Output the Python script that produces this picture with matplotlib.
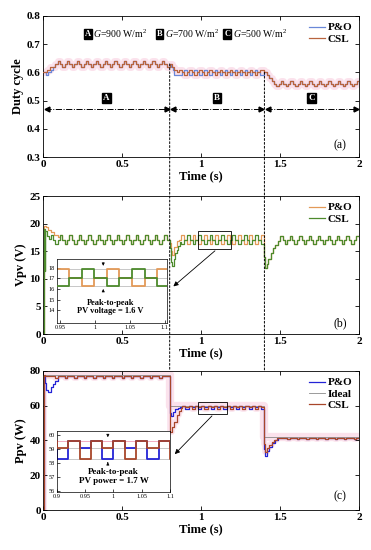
import numpy as np
import matplotlib
matplotlib.use('Agg')
import matplotlib.pyplot as plt
from matplotlib.patches import Rectangle, ConnectionPatch

plt.rcParams['font.family'] = ['Liberation Serif', 'DejaVu Serif']
plt.rcParams['mathtext.fontset'] = 'custom'
plt.rcParams['mathtext.rm'] = 'Liberation Serif'
plt.rcParams['mathtext.it'] = 'Liberation Serif:italic'

# ---- (a) duty cycle: start-up / transient points and repeating steady-state steps
D_CYC_A = [0.62, 0.63, 0.64, 0.63]
D_CYC_B_CSL = [0.61, 0.60, 0.59, 0.60]
D_CYC_B_PO = [0.59, 0.60, 0.61, 0.60]
D_CYC_C = [0.55, 0.56, 0.57, 0.56]
D_CSL_T0, D_CSL_V0 = [0.0, 0.02, 0.04], [0.60, 0.61, 0.62]
D_PO_T0, D_PO_V0 = [0.0, 0.015, 0.03, 0.045], [0.60, 0.59, 0.60, 0.61]
D_CSL_T1, D_CSL_V1 = [0.80, 0.815, 0.83, 0.845], [0.63, 0.62, 0.61, 0.60]
D_PO_T1, D_PO_V1 = [0.80, 0.81, 0.82, 0.83], [0.63, 0.62, 0.61, 0.59]
D_T2, D_V2 = [1.40, 1.415, 1.43, 1.445, 1.46], [0.60, 0.59, 0.58, 0.57, 0.56]

# ---- (b) PV voltage
V_CYC_A = [17.85, 17.1, 16.35, 17.1]
V_CYC_B_CSL = [16.3, 17.05, 17.85, 17.05]
V_CYC_B_PO = [17.85, 17.05, 16.3, 17.05]
V_CYC_C = [17.7, 17.0, 16.35, 17.0]
V_CSL_T0, V_CSL_V0 = [0.0, 0.003, 0.007, 0.012, 0.022, 0.035], [0.0, 19.0, 11.5, 18.6, 17.8, 17.3]
V_PO_T0, V_PO_V0 = [0.0, 0.003, 0.015, 0.03, 0.05, 0.07, 0.09], [0.0, 19.6, 19.3, 18.9, 18.4, 17.9, 17.5]
V_CSL_T1 = [0.80, 0.806, 0.815, 0.825, 0.835, 0.845, 0.855, 0.865]
V_CSL_V1 = [15.5, 13.0, 12.4, 13.6, 14.6, 15.3, 16.0, 16.6]
V_PO_T1, V_PO_V1 = [0.80, 0.806, 0.815, 0.83, 0.845, 0.86], [16.5, 15.0, 14.4, 15.8, 16.8, 17.1]
V_T2 = [1.40, 1.405, 1.415, 1.425, 1.44, 1.455, 1.47, 1.485]
V_V2 = [14.0, 12.0, 12.6, 13.6, 14.6, 15.5, 16.2, 16.8]

# ---- (c) PV power
P_CYC_A = [76.9, 76.9, 76.9, 75.7]
P_CYC_B_PO = [59.6, 59.6, 58.3, 58.3, 59.6, 59.6, 59.1, 59.1]
P_CYC_B_CSL = [59.6, 59.6, 59.1, 59.1, 59.6, 59.6, 58.3, 58.3]
P_CYC_C = [41.6, 41.6, 41.6, 40.8]
P_CSL_T0, P_CSL_V0 = [0.0, 0.002, 0.006, 0.012], [0.0, 52.0, 77.5, 76.9]
P_PO_T0 = [0.0, 0.003, 0.008, 0.018, 0.03, 0.045, 0.06, 0.075]
P_PO_V0 = [0.0, 77.0, 73.0, 69.0, 68.0, 70.5, 72.5, 74.5]
P_CSL_T1 = [0.80, 0.805, 0.815, 0.83, 0.845, 0.86, 0.87]
P_CSL_V1 = [48.0, 45.0, 47.5, 50.5, 54.5, 57.0, 58.5]
P_PO_T1, P_PO_V1 = [0.80, 0.806, 0.82, 0.835, 0.85, 0.865], [56.0, 54.0, 56.5, 58.0, 58.8, 59.3]
P_CSL_T2 = [1.40, 1.405, 1.415, 1.43, 1.445, 1.46, 1.48]
P_CSL_V2 = [38.0, 33.5, 35.5, 37.5, 39.0, 40.3, 41.2]
P_PO_T2 = [1.40, 1.405, 1.415, 1.43, 1.45, 1.47, 1.485]
P_PO_V2 = [35.0, 31.0, 34.0, 36.5, 38.5, 40.2, 41.2]
IDEAL_T = [0.0, 0.8, 1.4, 2.0]
IDEAL_V = [77.5, 59.6, 42.0, 42.0]

REGIONS = ['A', 'B', 'C']
REGION_EDGES = [0.0, 0.8, 1.4, 2.0]
IRRADIANCE = ['900', '700', '500']

C_BLUE_A, C_CSL_A = '#6a88d8', '#b8643e'
C_ORANGE, C_GREEN = '#e39a58', '#4d8a2c'
C_BLUE, C_RED, C_IDEAL = '#2323d6', '#a8462a', '#8a8a8a'
PINK = '#fbe2ec'


def wave(pieces, t_end=2.0):
    """Join explicit (t, v) pieces and repeated steady-state cycles (t0, t1, dt, levels)."""
    ts, vs = [], []
    for p in pieces:
        if len(p) == 2:
            ts.extend(p[0]); vs.extend(p[1])
        else:
            t0, t1, dt, levels = p
            n = int((t1 - t0) / dt + 1e-9)
            ts.extend(t0 + dt * np.arange(n))
            vs.extend(np.resize(levels, n))
    ts.append(t_end); vs.append(vs[-1])
    return np.array(ts), np.array(vs)


d_csl = wave([(D_CSL_T0, D_CSL_V0), (0.06, 0.8, 0.015, D_CYC_A), (D_CSL_T1, D_CSL_V1),
              (0.86, 1.4, 0.016, D_CYC_B_CSL), (D_T2, D_V2), (1.475, 2.0, 0.015, D_CYC_C)])
d_po = wave([(D_PO_T0, D_PO_V0), (0.06, 0.8, 0.015, D_CYC_A), (D_PO_T1, D_PO_V1),
             (0.86, 1.4, 0.016, D_CYC_B_PO), (D_T2, D_V2), (1.475, 2.0, 0.015, D_CYC_C)])
v_csl = wave([(V_CSL_T0, V_CSL_V0), (0.045, 0.8, 0.015, V_CYC_A), (V_CSL_T1, V_CSL_V1),
              (0.873, 1.4, 0.018, V_CYC_B_CSL), (V_T2, V_V2), (1.5, 2.0, 0.015, V_CYC_C)])
v_po = wave([(V_PO_T0, V_PO_V0), (0.105, 0.8, 0.015, V_CYC_A), (V_PO_T1, V_PO_V1),
             (0.873, 1.4, 0.018, V_CYC_B_PO), (V_T2, V_V2), (1.5, 2.0, 0.015, V_CYC_C)])
p_csl = wave([(P_CSL_T0, P_CSL_V0), (0.03, 0.8, 0.015, P_CYC_A), (P_CSL_T1, P_CSL_V1),
              (0.88, 1.4, 0.01, P_CYC_B_CSL), (P_CSL_T2, P_CSL_V2), (1.5, 2.0, 0.015, P_CYC_C)])
p_po = wave([(P_PO_T0, P_PO_V0), (0.09, 0.8, 0.015, P_CYC_A), (P_PO_T1, P_PO_V1),
             (0.88, 1.4, 0.01, P_CYC_B_PO), (P_PO_T2, P_PO_V2), (1.5, 2.0, 0.015, P_CYC_C)])

fig = plt.figure(figsize=(3.71, 5.5), dpi=100)
ax_a = fig.add_axes([0.117, 0.7145, 0.851, 0.2565])
ax_b = fig.add_axes([0.117, 0.3927, 0.851, 0.2509])
ax_c = fig.add_axes([0.117, 0.0727, 0.851, 0.2528])

BOLD = dict(fontsize=8, fontweight='bold')


def style(ax, ylim, yticks, ylabel):
    ax.set_xlim(0, 2)
    ax.set_ylim(*ylim)
    ax.set_xticks([0, 0.5, 1, 1.5, 2])
    ax.set_xticklabels(['0', '0.5', '1', '1.5', '2'], **BOLD)
    ax.set_yticks(yticks)
    ax.set_yticklabels([f'{y:g}' for y in yticks], **BOLD)
    ax.tick_params(direction='in', top=True, right=True, length=3, width=0.6, pad=2)
    ax.set_xlabel('Time (s)', fontsize=9, fontweight='bold', labelpad=1)
    ax.set_ylabel(ylabel, fontsize=9, fontweight='bold', labelpad=2)
    for s in ax.spines.values():
        s.set_linewidth(0.6)


# ---------- (a)
ax_a.plot(*d_csl, drawstyle='steps-post', color=PINK, lw=5, zorder=1)
ax_a.plot(*d_po, drawstyle='steps-post', color=C_BLUE_A, lw=0.9, label='P&O', zorder=2)
ax_a.plot(*d_csl, drawstyle='steps-post', color=C_CSL_A, lw=0.9, label='CSL', zorder=3)
style(ax_a, (0.3, 0.8), [0.3, 0.4, 0.5, 0.6, 0.7, 0.8], 'Duty cycle')
ax_a.legend(loc='upper right', frameon=False, prop=dict(size=8, weight='bold'),
            handlelength=1.4, handletextpad=0.3, labelspacing=0.15, borderaxespad=0.2)
box = dict(boxstyle='square,pad=0.12', fc='black', ec='black')
for lab, g, xb in zip(REGIONS, IRRADIANCE, [0.28, 0.735, 1.165]):
    ax_a.text(xb, 0.735, lab, color='white', fontsize=6, fontweight='bold',
              ha='center', va='center', bbox=box)
    ax_a.text(xb + 0.035, 0.735, f'$G$={g} W/m$^2$', fontsize=7, ha='left', va='center')
for i, lab in enumerate(REGIONS):
    x0, x1 = REGION_EDGES[i], REGION_EDGES[i + 1]
    ax_a.plot([x0 + 0.01, x1 - 0.01], [0.47, 0.47], color='k', lw=0.7, ls='-.')
    ax_a.plot([x0 + 0.02], [0.47], marker='<', color='k', ms=3.5)
    ax_a.plot([x1 - 0.02], [0.47], marker='>', color='k', ms=3.5)
    ax_a.text((x0 + x1) / 2, 0.51, lab, color='white', fontsize=6.5, fontweight='bold',
              ha='center', va='center', bbox=box)
ax_a.text(1.88, 0.34, '(a)', fontsize=8.5, ha='center', va='center')

# ---------- (b)
ax_b.plot(*v_po, drawstyle='steps-post', color=C_ORANGE, lw=0.9, label='P&O', zorder=2)
ax_b.plot(*v_csl, drawstyle='steps-post', color=C_GREEN, lw=0.9, label='CSL', zorder=3)
style(ax_b, (0, 25), [0, 5, 10, 15, 20, 25], 'Vpv (V)')
ax_b.legend(loc='upper right', frameon=False, prop=dict(size=8, weight='bold'),
            handlelength=1.4, handletextpad=0.3, labelspacing=0.15, borderaxespad=0.2)
ax_b.add_patch(Rectangle((0.98, 15.4), 0.21, 3.3, fill=False, ec='k', lw=0.6, zorder=4))
ax_b.annotate('', xy=(0.81, 8.3), xytext=(1.1, 15.4),
              arrowprops=dict(arrowstyle='-|>', color='k', lw=0.6, mutation_scale=7))
ax_b.text(1.88, 2.0, '(b)', fontsize=8.5, ha='center', va='center')

ins_b = fig.add_axes([0.1536, 0.4127, 0.2965, 0.1164])
for y in [17.85, 17.05, 16.3]:
    ins_b.axhline(y, color='#b0b0b0', lw=0.5, zorder=1)
ins_b.plot(*v_po, drawstyle='steps-post', color=C_ORANGE, lw=1.3, zorder=2)
ins_b.plot(*v_csl, drawstyle='steps-post', color=C_GREEN, lw=1.3, zorder=3)
ins_b.set_xlim(0.946, 1.103)
ins_b.set_ylim(12.8, 18.8)
ins_b.set_xticks([0.95, 1, 1.05, 1.1])
ins_b.set_xticklabels(['0.95', '1', '1.05', '1.1'])
ins_b.set_yticks([14, 15, 16, 17, 18])
ins_b.tick_params(direction='in', labelsize=4.5, length=2, width=0.5, pad=1.5)
ins_b.annotate('', xy=(1.012, 17.9), xytext=(1.012, 18.7),
               arrowprops=dict(arrowstyle='-|>', color='k', lw=0.5, mutation_scale=4))
ins_b.annotate('', xy=(1.012, 16.25), xytext=(1.012, 15.5),
               arrowprops=dict(arrowstyle='-|>', color='k', lw=0.5, mutation_scale=4))
ins_b.text(1.022, 14.3, 'Peak-to-peak\nPV voltage = 1.6 V', fontsize=6, fontweight='bold',
           ha='center', va='center', linespacing=1.1)
for s in ins_b.spines.values():
    s.set_linewidth(0.5)

# ---------- (c)
ax_c.plot(IDEAL_T, IDEAL_V, drawstyle='steps-post', color=PINK, lw=6, zorder=1)
ax_c.plot(*p_csl, drawstyle='steps-post', color=PINK, lw=4, zorder=1)
ax_c.plot(*p_po, drawstyle='steps-post', color=C_BLUE, lw=0.9, label='P&O', zorder=2)
ax_c.plot(IDEAL_T, IDEAL_V, drawstyle='steps-post', color=C_IDEAL, lw=0.6, label='Ideal', zorder=2)
ax_c.plot(*p_csl, drawstyle='steps-post', color=C_RED, lw=0.9, label='CSL', zorder=3)
style(ax_c, (0, 80), [0, 20, 40, 60, 80], 'Ppv (W)')
h, l = ax_c.get_legend_handles_labels()
ax_c.legend(h, l, loc='upper right', frameon=False, prop=dict(size=8, weight='bold'),
            handlelength=1.4, handletextpad=0.3, labelspacing=0.15, borderaxespad=0.2)
ax_c.add_patch(Rectangle((0.98, 55.3), 0.185, 6.9, fill=False, ec='k', lw=0.6, zorder=4))
ax_c.annotate('', xy=(0.82, 31), xytext=(1.08, 55.3),
              arrowprops=dict(arrowstyle='-|>', color='k', lw=0.6, mutation_scale=7))
ax_c.text(1.88, 8, '(c)', fontsize=8.5, ha='center', va='center')

ins_c = fig.add_axes([0.1536, 0.1055, 0.3046, 0.1109])
ins_c.axhline(59.6, color='#f0a0b8', lw=0.6, zorder=1)
for y in [59.1, 58.3]:
    ins_c.axhline(y, color='#b0b0b0', lw=0.5, zorder=1)
ins_c.plot(*p_po, drawstyle='steps-post', color=C_BLUE, lw=1.3, zorder=2)
ins_c.plot(*p_csl, drawstyle='steps-post', color=C_RED, lw=1.3, zorder=3)
ins_c.set_xlim(0.9, 1.1)
ins_c.set_ylim(55.9, 60.3)
ins_c.set_xticks([0.9, 0.95, 1, 1.05, 1.1])
ins_c.set_xticklabels(['0.9', '0.95', '1', '1.05', '1.1'])
ins_c.set_yticks([56, 57, 58, 59, 60])
ins_c.tick_params(direction='in', labelsize=4.5, length=2, width=0.5, pad=1.5)
ins_c.annotate('', xy=(0.99, 59.65), xytext=(0.99, 60.2),
               arrowprops=dict(arrowstyle='-|>', color='k', lw=0.5, mutation_scale=4))
ins_c.annotate('', xy=(0.99, 58.25), xytext=(0.99, 57.8),
               arrowprops=dict(arrowstyle='-|>', color='k', lw=0.5, mutation_scale=4))
ins_c.text(1.0, 57.0, 'Peak-to-peak\nPV power = 1.7 W', fontsize=6.5, fontweight='bold',
           ha='center', va='center', linespacing=1.1)
for s in ins_c.spines.values():
    s.set_linewidth(0.5)

# dotted lines marking the irradiance changes, running through all panels
for x, y0 in [(0.8, 0.63), (1.4, 0.60)]:
    con = ConnectionPatch(xyA=(x, y0), coordsA=ax_a.transData, xyB=(x, 80), coordsB=ax_c.transData,
                          color='k', lw=0.7, ls=(0, (2, 2)), zorder=5)
    fig.add_artist(con)

fig.savefig('out.png', dpi=100)
